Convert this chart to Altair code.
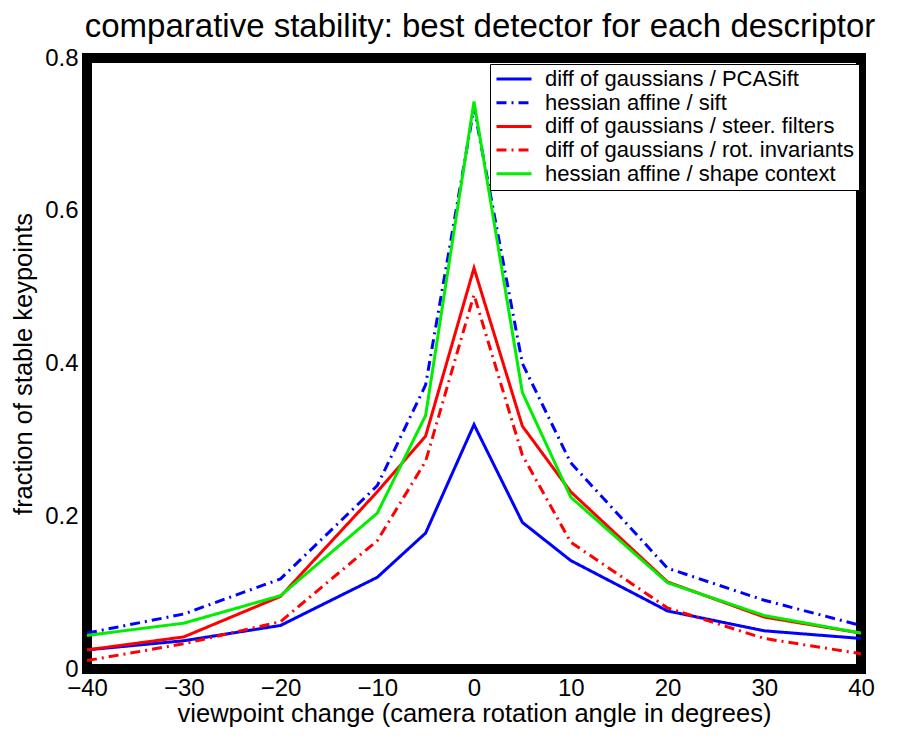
import altair as alt
import pandas as pd

angles = [-40, -30, -20, -10, -5, 0, 5, 10, 20, 30, 40]

series_names = [
    "diff of gaussians / PCASift",
    "hessian affine / sift",
    "diff of gaussians / steer. filters",
    "diff of gaussians / rot. invariants",
    "hessian affine / shape context",
]
dog_pcasift = [0.025, 0.037, 0.057, 0.12, 0.178, 0.32, 0.192, 0.142, 0.076, 0.05, 0.04]
hes_sift = [0.047, 0.072, 0.118, 0.24, 0.372, 0.735, 0.40, 0.27, 0.132, 0.09, 0.057]
dog_steer = [0.025, 0.042, 0.095, 0.232, 0.305, 0.525, 0.318, 0.232, 0.114, 0.068, 0.047]
dog_rot = [0.011, 0.033, 0.062, 0.168, 0.272, 0.49, 0.28, 0.166, 0.08, 0.04, 0.02]
hes_shape = [0.044, 0.06, 0.096, 0.204, 0.332, 0.743, 0.362, 0.225, 0.113, 0.07, 0.047]

colors = ["#0000ff", "#0000ff", "#ff0000", "#ff0000", "#00ee00"]
dashes = [[1, 0], [10, 5, 2, 5], [1, 0], [10, 5, 2, 5], [1, 0]]

x_ticks = [-40, -30, -20, -10, 0, 10, 20, 30, 40]
y_ticks = [0, 0.2, 0.4, 0.6, 0.8]

values = [dog_pcasift, hes_sift, dog_steer, dog_rot, hes_shape]
rows = []
for name, vals in zip(series_names, values):
    for a, v in zip(angles, vals):
        rows.append({"angle": a, "frac": v, "series": name})
df = pd.DataFrame(rows)

FONT = "Liberation Sans"

legend = alt.Legend(
    orient="none", legendX=403, legendY=6, fillColor="white", strokeColor="black",
    padding=5, symbolType="stroke", symbolSize=1225, symbolStrokeWidth=3,
    labelFontSize=22, labelFont=FONT, labelColor="black", clipHeight=20,
    rowPadding=1.7, labelOffset=12, labelLimit=400, title=None,
)

chart = alt.Chart(df).mark_line(strokeWidth=3, clip=True).encode(
    x=alt.X("angle:Q", scale=alt.Scale(domain=[-40, 40], nice=False),
            axis=alt.Axis(values=x_ticks, format="d", labelFlush=False,
                          title="viewpoint change (camera rotation angle in degrees)")),
    y=alt.Y("frac:Q", scale=alt.Scale(domain=[0, 0.8], nice=False),
            axis=alt.Axis(values=y_ticks, labelExpr="datum.value == 0 ? '0' : format(datum.value, '.1f')",
                          labelFlush=False, title="fraction of stable keypoints")),
    color=alt.Color("series:N", scale=alt.Scale(domain=series_names, range=colors), sort=series_names, legend=legend),
    strokeDash=alt.StrokeDash("series:N", scale=alt.Scale(domain=series_names, range=dashes), sort=series_names, legend=legend),
).properties(
    width=774, height=611,
    title=alt.Title("comparative stability: best detector for each descriptor", fontSize=33, font=FONT,
                    fontWeight="normal", color="black", anchor="middle", offset=2, dx=6),
    autosize="none",
    padding={"left": 79, "top": 50, "right": 34, "bottom": 61},
).configure_view(
    stroke="black", strokeWidth=10,
).configure_axis(
    domain=False, ticks=False, grid=False,
    labelFont=FONT, labelFontSize=24, labelColor="black",
    titleFont=FONT, titleFontSize=25.5, titleFontWeight="normal", titleColor="black",
).configure_axisX(labelPadding=7, titlePadding=1).configure_axisY(labelPadding=9, titlePadding=8)

chart.save("out.html", embed_options={"renderer": "svg", "actions": False})
